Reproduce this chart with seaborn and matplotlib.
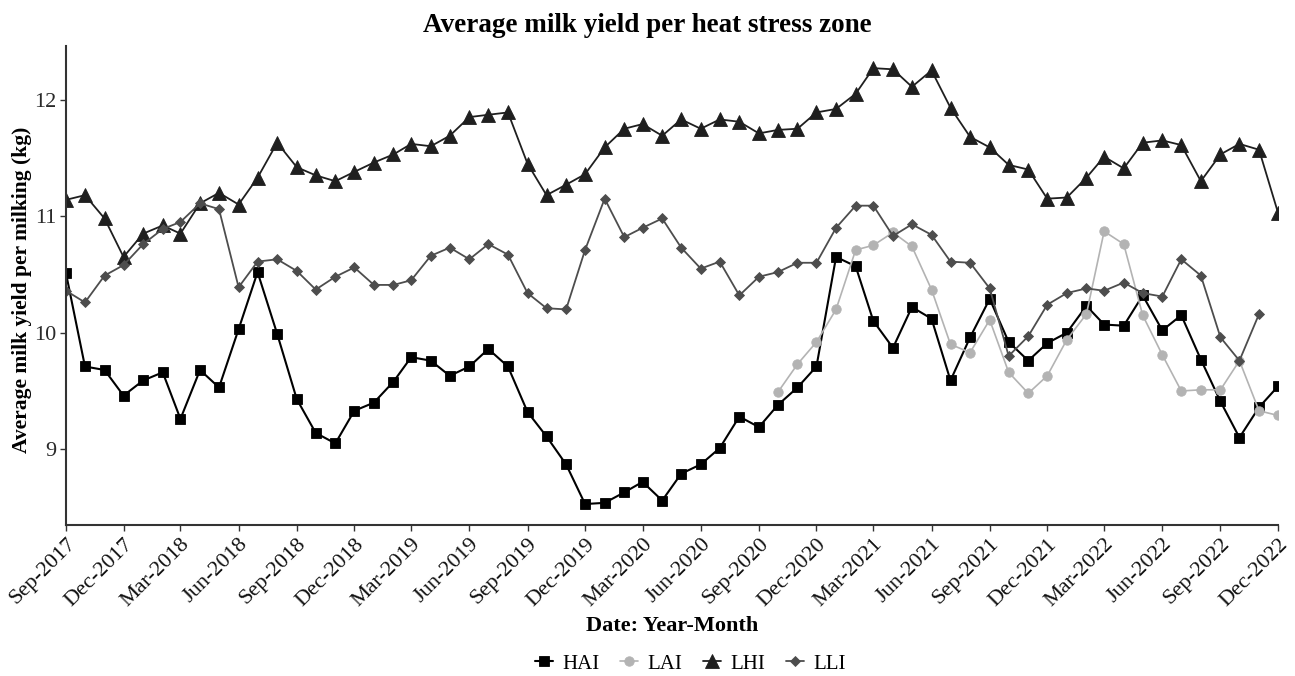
import numpy as np
import pandas as pd
import matplotlib
matplotlib.use("Agg")
import matplotlib.pyplot as plt
import matplotlib.dates as mdates
import seaborn as sns

# Monthly averages, Sep-2017 .. Dec-2022
months = pd.date_range("2017-09-01", periods=64, freq="MS")

hai = [10.51, 9.71, 9.68, 9.46, 9.59, 9.66, 9.26, 9.68, 9.53, 10.03, 10.52, 9.99, 9.43, 9.14, 9.05, 9.33, 9.40,
       9.58, 9.79, 9.76, 9.63, 9.71, 9.86, 9.71, 9.32, 9.11, 8.87, 8.53, 8.54, 8.63, 8.72, 8.56, 8.79, 8.87,
       9.01, 9.28, 9.19, 9.38, 9.53, 9.71, 10.65, 10.57, 10.10, 9.87, 10.22, 10.12, 9.59, 9.96, 10.29, 9.92, 9.76,
       9.91, 10.00, 10.23, 10.07, 10.06, 10.32, 10.02, 10.15, 9.77, 9.41, 9.10, 9.36, 9.54]

lai = [np.nan] * 37 + [
       9.49, 9.73, 9.92, 10.20, 10.71, 10.75, 10.86, 10.74, 10.37, 9.90, 9.83, 10.11, 9.66, 9.48,
       9.63, 9.94, 10.16, 10.87, 10.76, 10.15, 9.81, 9.50, 9.51, 9.51, 9.76, 9.33, 9.29]

lhi = [11.14, 11.18, 10.98, 10.65, 10.85, 10.92, 10.85, 11.11, 11.20, 11.10, 11.33, 11.63, 11.42, 11.35, 11.30, 11.38, 11.46,
       11.53, 11.62, 11.60, 11.69, 11.85, 11.87, 11.89, 11.45, 11.18, 11.27, 11.36, 11.59, 11.75, 11.79, 11.69, 11.83, 11.75,
       11.83, 11.81, 11.71, 11.74, 11.75, 11.89, 11.92, 12.05, 12.27, 12.26, 12.11, 12.25, 11.93, 11.68, 11.59, 11.44, 11.40,
       11.15, 11.16, 11.33, 11.51, 11.41, 11.63, 11.65, 11.61, 11.30, 11.53, 11.62, 11.57, 11.03]

lli = [10.36, 10.26, 10.49, 10.58, 10.76, 10.89, 10.95, 11.11, 11.06, 10.39, 10.61, 10.63, 10.53, 10.37, 10.48, 10.56, 10.41,
       10.41, 10.45, 10.66, 10.73, 10.63, 10.76, 10.67, 10.34, 10.21, 10.20, 10.71, 11.15, 10.82, 10.90, 10.98, 10.73, 10.55,
       10.61, 10.32, 10.48, 10.52, 10.60, 10.60, 10.90, 11.09, 11.09, 10.83, 10.93, 10.84, 10.61, 10.60, 10.38, 9.80, 9.97,
       10.24, 10.34, 10.38, 10.36, 10.43, 10.34, 10.31, 10.63, 10.49, 9.96, 9.76, 10.16, np.nan]

zones = ["HAI", "LAI", "LHI", "LLI"]
values = {"HAI": hai, "LAI": lai, "LHI": lhi, "LLI": lli}

df = pd.concat(
    [pd.DataFrame({"date": months, "yield": values[z], "zone": z}) for z in zones],
    ignore_index=True,
)

styles = {
    "HAI": dict(color="#000000", marker="s", markersize=7.8, linewidth=1.5),
    "LAI": dict(color="#b3b3b3", marker="o", markersize=6.8, linewidth=1.2),
    "LHI": dict(color="#1f1f1f", marker="^", markersize=9.5, linewidth=1.3),
    "LLI": dict(color="#4d4d4d", marker="D", markersize=4.8, linewidth=1.3),
}

sns.set_theme(style="ticks")
plt.rcParams["font.family"] = ["Liberation Serif", "DejaVu Serif"]
plt.rcParams["text.color"] = "black"
plt.rcParams["axes.labelcolor"] = "black"

fig = plt.figure(figsize=(12.95, 6.76), dpi=100)
ax = fig.add_axes([66 / 1295, 1 - 525 / 676, (1278 - 66) / 1295, (525 - 46) / 676])

for z in zones:
    sub = df[df["zone"] == z].dropna()
    st = styles[z]
    sns.lineplot(
        data=sub, x="date", y="yield", ax=ax, label=z,
        color=st["color"], marker=st["marker"], markersize=st["markersize"],
        linewidth=st["linewidth"], markeredgecolor=st["color"], markeredgewidth=0.6,
        legend=False,
    )

tick_dates = months[::3]
ax.set_xticks(tick_dates)
ax.xaxis.set_major_formatter(mdates.DateFormatter("%b-%Y"))
ax.set_xlim(months[0], months[-1])
ax.set_ylim(8.35, 12.46)
ax.set_yticks([9, 10, 11, 12])

for lab in ax.get_xticklabels():
    lab.set_rotation(45)
    lab.set_ha("right")
    lab.set_rotation_mode("anchor")
ax.tick_params(axis="x", labelsize=16, colors="#333333", labelcolor="#111111", length=4, width=1, pad=3)
ax.tick_params(axis="y", labelsize=16, colors="#333333", labelcolor="#2a2a2a", length=4, width=1, pad=3)

for side in ["top", "right"]:
    ax.spines[side].set_visible(False)
for side in ["left", "bottom"]:
    ax.spines[side].set_color("#333333")
    ax.spines[side].set_linewidth(1.5)

ax.set_xlabel("Date: Year-Month", fontsize=16, fontweight="bold", va="center", color="black")
ax.set_ylabel("Average milk yield per milking (kg)", fontsize=15.5, fontweight="bold", va="center",
              color="black")
ax.xaxis.set_label_coords(0.5, -0.211)
ax.yaxis.set_label_coords((22 - 66) / 1212, 0.49)

fig.suptitle("Average milk yield per heat stress zone", fontsize=19.5, fontweight="bold",
             x=0.5, y=0.962, va="center", color="black")

handles, labels = ax.get_legend_handles_labels()
leg = fig.legend(handles, labels, loc="center", bbox_to_anchor=(0.533, 0.018), ncol=4,
                 frameon=False, fontsize=15, handlelength=0.85, handletextpad=0.45, columnspacing=1.0)
for t in leg.get_texts():
    t.set_color("black")

fig.savefig("out.png", dpi=100)
